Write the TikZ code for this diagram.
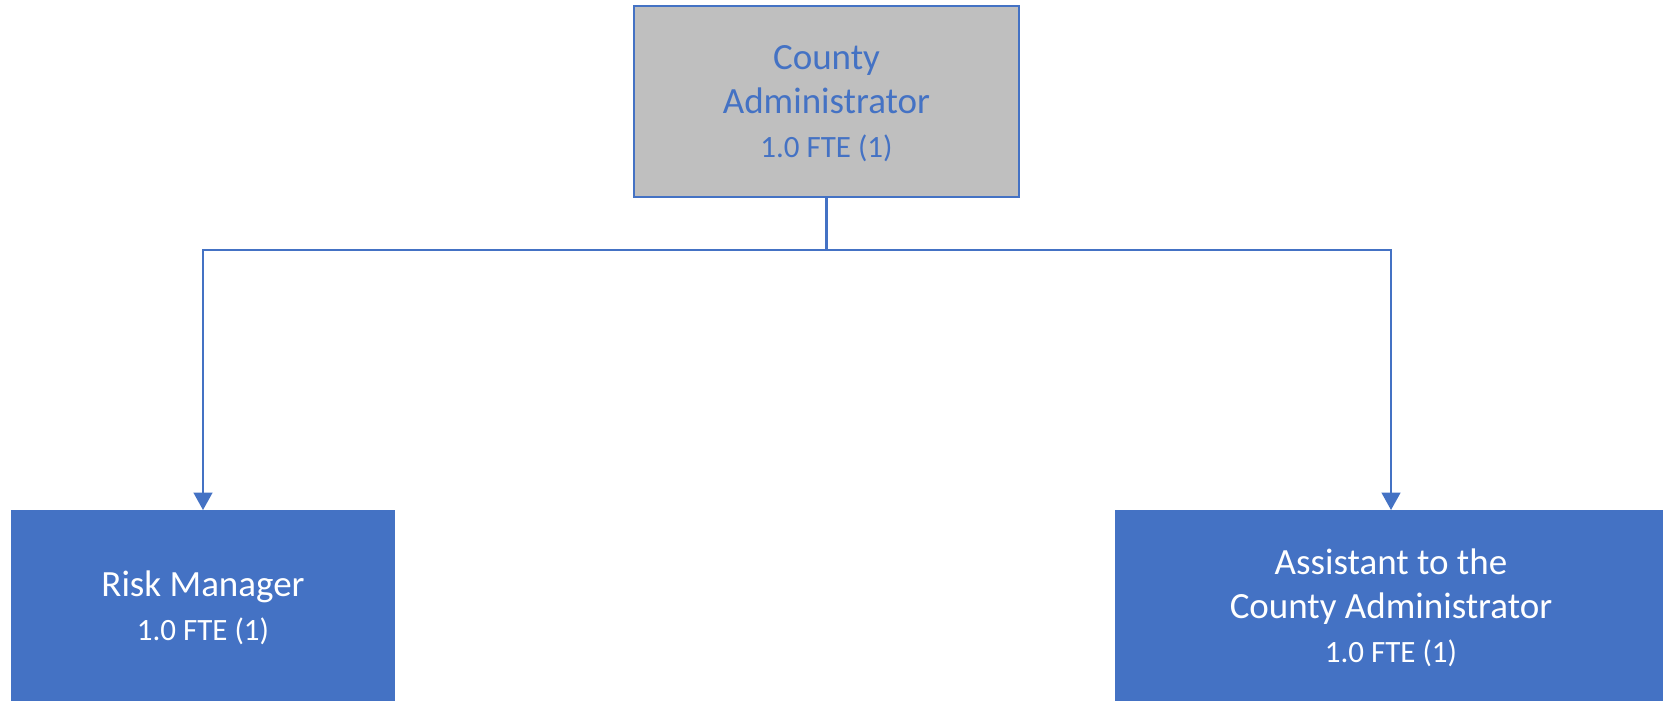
\documentclass[tikz,border=0pt]{standalone}
\usepackage{fontspec}
\setmainfont{Carlito}
\usepackage{xcolor}
\usetikzlibrary{positioning, arrows.meta}

\definecolor{orgblue}{HTML}{4472C4}
\definecolor{orggray}{HTML}{BFBFBF}

\newcommand{\fte}{\fontsize{23.25}{30}\selectfont 1.0 FTE (1)}

\begin{document}
\begin{tikzpicture}[x=0.75pt, y=-0.75pt,
    box/.style={align=center, inner sep=0pt, minimum height=143.25pt,
        text depth=-3.3pt, font=\fontsize{27.75}{33}\selectfont},
    head/.style={box, draw=orgblue, line width=1.5pt, fill=orggray, text=orgblue,
        minimum width=288.75pt},
    unit/.style={box, fill=orgblue, text=white, anchor=north},
    link/.style={draw=orgblue, line width=1.6pt},
    tip/.style={-{Triangle[width=14pt, length=13pt]}}]

    \useasboundingbox (0,0) rectangle (1663,701);

    \node[head] (admin) at (826.5,101.5) {County\\Administrator\\\fte};

    \node[unit, minimum width=288pt] (risk) at (203,510)
        {Risk Manager\\\fte};
    \node[unit, minimum width=414pt] (asst) at (1391,510)
        {Assistant to the\\County Administrator\\\fte};

    \coordinate (bus) at (826.5,250);

    \draw[link] (admin.south) -- (bus);
    \draw[link, tip] (bus) -| (risk.north);
    \draw[link, tip] (bus) -| (asst.north);
\end{tikzpicture}
\end{document}
